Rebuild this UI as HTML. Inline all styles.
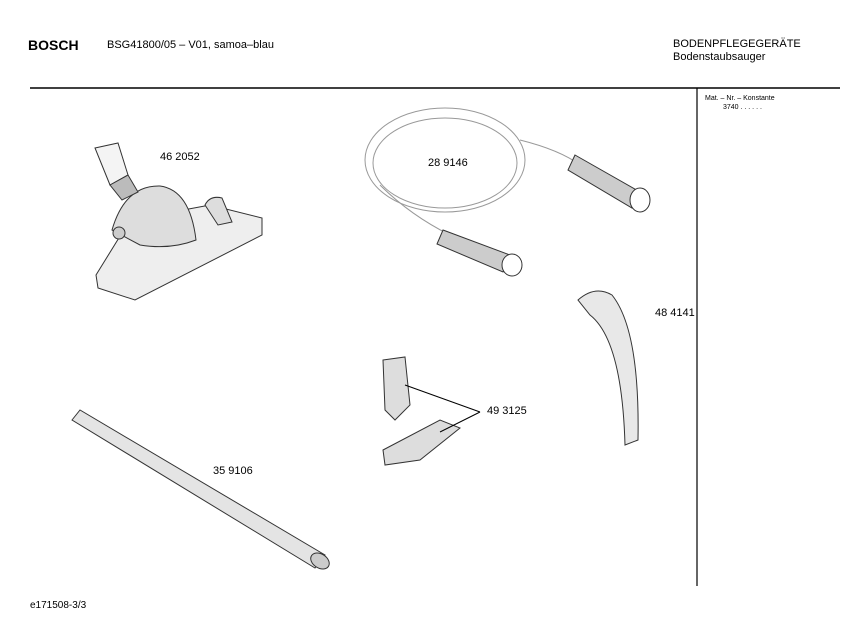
<!DOCTYPE html>
<html><head><meta charset="utf-8"><style>
body{margin:0;background:#fff;width:847px;height:635px;overflow:hidden}
svg text{font-family:"Liberation Sans",sans-serif;fill:#000}
</style></head><body>
<svg width="847" height="635" viewBox="0 0 847 635" xmlns="http://www.w3.org/2000/svg">
<text x="28" y="50" font-size="14" font-weight="bold">BOSCH</text>
<text x="107" y="48" font-size="11">BSG41800/05 – V01, samoa–blau</text>
<text x="673" y="47" font-size="11">BODENPFLEGEGERÄTE</text>
<text x="673" y="60" font-size="11">Bodenstaubsauger</text>
<line x1="30" y1="88" x2="840" y2="88" stroke="#000" stroke-width="1.5"/>
<line x1="697" y1="88" x2="697" y2="586" stroke="#000" stroke-width="1.2"/>
<text x="705" y="100" font-size="7">Mat. – Nr. – Konstante</text>
<text x="723" y="109" font-size="7">3740 . . . . . .</text>
<text x="30" y="608" font-size="10">e171508-3/3</text>

<!-- floor nozzle -->
<g stroke="#333" stroke-width="1" fill="#eee">
<path d="M96 275 L130 220 L210 205 L262 218 L262 235 L135 300 L98 288 Z"/>
<path d="M112 230 Q125 185 160 186 Q190 190 196 240 Q170 250 140 245 Z" fill="#ddd"/>
<circle cx="119" cy="233" r="6" fill="#ccc"/>
<path d="M95 148 L118 143 L128 175 L110 185 Z" fill="#f4f4f4"/>
<path d="M110 185 L128 175 L138 192 L122 200 Z" fill="#bbb"/>
<path d="M205 205 Q210 195 222 198 L232 222 L218 225 Z" fill="#ddd"/>
</g>
<text x="160" y="160" font-size="11">46 2052</text>

<!-- hose -->
<g fill="none" stroke="#999" stroke-width="1">
<ellipse cx="445" cy="160" rx="80" ry="52"/>
<ellipse cx="445" cy="163" rx="72" ry="45"/>
<path d="M520 140 Q560 150 580 165"/>
<path d="M380 185 Q410 215 450 235"/>
</g>
<g stroke="#333" fill="#ccc">
<path d="M575 155 L640 192 L632 208 L568 170 Z"/>
<ellipse cx="640" cy="200" rx="10" ry="12" fill="#fff"/>
<path d="M443 230 L510 255 L503 272 L437 244 Z"/>
<ellipse cx="512" cy="265" rx="10" ry="11" fill="#fff"/>
</g>
<text x="428" y="166" font-size="11">28 9146</text>

<!-- bend -->
<path d="M578 300 Q595 285 612 295 Q640 330 638 440 L625 445 Q622 340 590 315 Z" fill="#e8e8e8" stroke="#333"/>
<text x="655" y="316" font-size="11">48 4141</text>

<!-- tube -->
<path d="M72 420 L80 410 L325 555 L315 568 Z" fill="#e4e4e4" stroke="#333"/>
<ellipse cx="320" cy="561" rx="7" ry="10" fill="#ccc" stroke="#333" transform="rotate(-58 320 561)"/>
<text x="213" y="474" font-size="11">35 9106</text>

<!-- adapters -->
<g stroke="#333" fill="#ddd">
<path d="M383 360 L405 357 L410 405 L395 420 L385 410 Z"/>
<path d="M383 450 L440 420 L460 428 L420 460 L385 465 Z"/>
</g>
<line x1="405" y1="385" x2="480" y2="412" stroke="#000"/>
<line x1="440" y1="432" x2="480" y2="412" stroke="#000"/>
<text x="487" y="414" font-size="11">49 3125</text>
</svg>
</body></html>
